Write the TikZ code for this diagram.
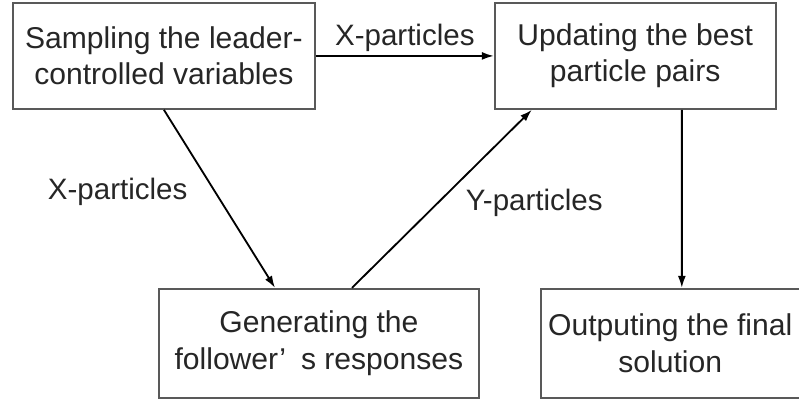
\documentclass[tikz,border=0pt]{standalone}
\usepackage{fontspec}
\setmainfont{Liberation Sans}
\usetikzlibrary{positioning,arrows.meta}

\begin{document}
\begin{tikzpicture}[node distance=4.45cm and 4.45cm,
  box/.style={draw=black!65,line width=1.3pt,align=center,text=black!85,
    font=\fontsize{21.4}{26}\selectfont,minimum height=2.65cm,inner sep=2pt},
  lbl/.style={text=black!85,font=\fontsize{21}{25.6}\selectfont},
  arr/.style={-{Latex[length=3mm,width=2mm]},line width=1.3pt}]
  \useasboundingbox (0,0) rectangle (19.975,-9.95);
  \node[box,minimum width=7.55cm,anchor=north west] (sample) at (0.3,-0.05) {Sampling the leader-\\controlled variables};
  \node[box,minimum width=7.025cm,right=of sample] (update) {Updating the best\\particle pairs};
  \node[box,minimum width=8cm,minimum height=2.725cm,below=of sample.south west,anchor=north west,xshift=3.65cm] (generate) {Generating the\\follower’\enspace s responses};
  \node[box,minimum width=6.475cm,minimum height=2.725cm,right=1.5cm of generate] (output) {Outputing the final\\solution};
  \draw[arr] (sample) -- node[lbl,above=-1pt] {X-particles} (update);
  \draw[arr] (sample.south) -- node[lbl,pos=0.46,left=0.55cm] {X-particles} ([xshift=2.925cm]generate.north west);
  \draw[arr] ([xshift=4.85cm]generate.north west) -- node[lbl,pos=0.48,right=0.55cm] {Y-particles} ([xshift=0.95cm]update.south west);
  \draw[arr] ([xshift=4.7cm]update.south west) -- ([xshift=3.55cm]output.north west);
\end{tikzpicture}
\end{document}
